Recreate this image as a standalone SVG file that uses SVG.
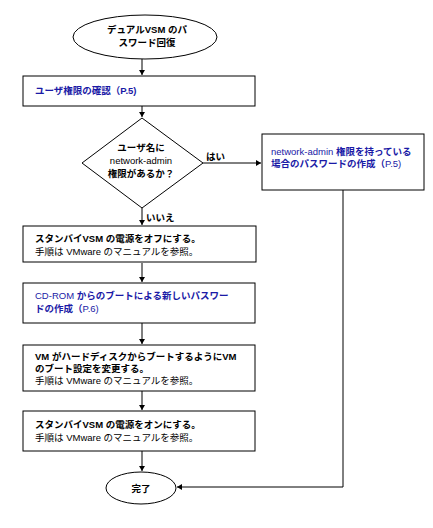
<svg xmlns="http://www.w3.org/2000/svg" width="433" height="528" viewBox="0 0 433 528">
<style>
.shape{fill:#fff;stroke:#000;stroke-width:1}
.line{fill:none;stroke:#000;stroke-width:1}
text{font-family:"Liberation Sans","Noto Sans CJK JP",sans-serif;font-size:9.5px}
.b{font-weight:bold}
.blue{fill:#1a1aa6}
.mid{text-anchor:middle}
</style>
<defs>
<marker id="ah" markerWidth="6" markerHeight="6" refX="5" refY="3" orient="auto" markerUnits="userSpaceOnUse">
<path d="M0,0 L5,3 L0,6 Z" fill="#000"/>
</marker>
</defs>
<rect width="433" height="528" fill="#fff"/>
<g id="connectors">
<line class="line" x1="142" y1="59" x2="142" y2="75" marker-end="url(#ah)"/>
<line class="line" x1="142" y1="106" x2="142" y2="117" marker-end="url(#ah)"/>
<line class="line" x1="203" y1="163" x2="261" y2="163" marker-end="url(#ah)"/>
<line class="line" x1="142" y1="208" x2="142" y2="225" marker-end="url(#ah)"/>
<line class="line" x1="142" y1="263" x2="142" y2="282" marker-end="url(#ah)"/>
<line class="line" x1="142" y1="323" x2="142" y2="344" marker-end="url(#ah)"/>
<line class="line" x1="142" y1="391" x2="142" y2="410" marker-end="url(#ah)"/>
<line class="line" x1="142" y1="451" x2="142" y2="471" marker-end="url(#ah)"/>
<polyline class="line" points="343,190 343,487 177,487" marker-end="url(#ah)"/>
<text x="206" y="160" class="b">はい</text>
<text x="146" y="221" class="b">いいえ</text>
</g>
<g id="start">
<ellipse class="shape" cx="145" cy="37" rx="72" ry="22"/>
<text x="147" y="33" class="b mid">デュアルVSM のパ</text>
<text x="147" y="46" class="b mid">スワード回復</text>
</g>
<g id="check">
<rect class="shape" x="23" y="76" width="232" height="30"/>
<text x="35" y="94" class="b blue">ユーザ権限の確認（P.5)</text>
</g>
<g id="decision">
<polygon class="shape" points="142,118 203,163 142,208 82,163"/>
<text x="141" y="151" class="b mid">ユーザ名に</text>
<text x="141" y="164" class="mid">network-admin</text>
<text x="141" y="177" class="b mid">権限があるか？</text>
</g>
<g id="yes-box">
<rect class="shape" x="262" y="134" width="162" height="56"/>
<text x="271" y="155" class="blue"><tspan>network-admin </tspan><tspan class="b">権限を持っている</tspan></text>
<text x="271" y="167" class="b blue">場合のパスワードの作成（<tspan font-weight="normal">P.5)</tspan></text>
</g>
<g id="power-off">
<rect class="shape" x="23" y="226" width="233" height="36"/>
<text x="35" y="242" class="b">スタンバイVSM の電源をオフにする。</text>
<text x="35" y="255">手順は VMware のマニュアルを参照。</text>
</g>
<g id="cdrom">
<rect class="shape" x="23" y="283" width="232" height="40"/>
<text x="35" y="299" class="blue">CD-ROM <tspan class="b">からのブートによる新しいパスワー</tspan></text>
<text x="35" y="312" class="b blue">ドの作成（<tspan font-weight="normal">P.6)</tspan></text>
</g>
<g id="boot-setting">
<rect class="shape" x="23" y="345" width="232" height="46"/>
<text x="35" y="360" class="b">VM がハードディスクからブートするようにVM</text>
<text x="35" y="372" class="b">のブート設定を変更する。</text>
<text x="35" y="384">手順は VMware のマニュアルを参照。</text>
</g>
<g id="power-on">
<rect class="shape" x="23" y="411" width="232" height="40"/>
<text x="35" y="428" class="b">スタンバイVSM の電源をオンにする。</text>
<text x="35" y="441">手順は VMware のマニュアルを参照。</text>
</g>
<g id="end">
<ellipse class="shape" cx="141" cy="488" rx="35" ry="16"/>
<text x="141" y="492" class="b mid">完了</text>
</g>
</svg>
